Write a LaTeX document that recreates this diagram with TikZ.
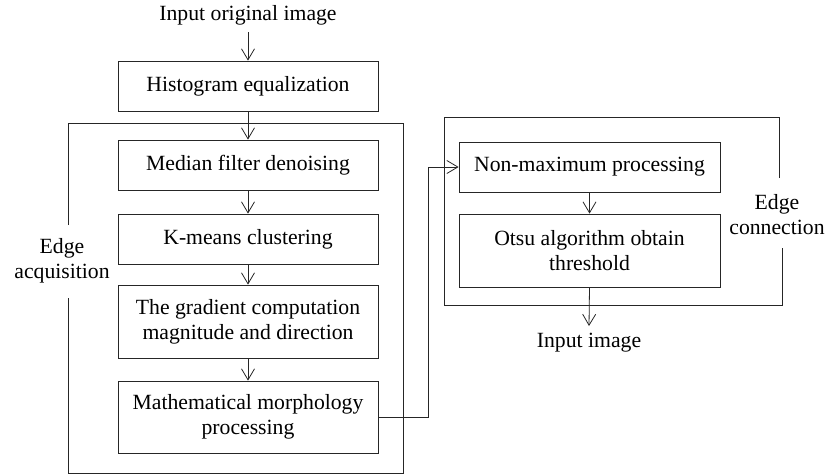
\documentclass[tikz,border=0pt]{standalone}
\usepackage{fontspec}
\setmainfont{Liberation Serif}
\usetikzlibrary{arrows.meta}
\begin{document}
\begin{tikzpicture}[x=1pt,y=-1pt,
  box/.style={draw=black!85, line width=0.8pt, minimum width=260pt, align=center, inner sep=0pt,
    font=\fontsize{21.7}{25}\selectfont},
  lbl/.style={align=center, inner sep=1pt, font=\fontsize{21.7}{25}\selectfont},
  frame/.style={draw=black!85, line width=0.8pt},
  arr/.style={draw=black!85, line width=0.8pt, -{Straight Barb[length=11pt,width=13pt,line width=0.8pt]}}]
\useasboundingbox (0,0) rectangle (829,475);

% left column
\node[lbl] (in) at (248,15) {Input original image};
\node[box, minimum height=50pt] (hist) at (248,86) {Histogram equalization};
\node[box, minimum height=50pt] (med) at (248,165) {Median filter denoising};
\node[box, minimum height=50pt] (km) at (248,239) {K-means clustering};
\node[box, minimum height=73pt] (grad) at (248,321.5) {The gradient computation\\magnitude and direction};
\node[box, minimum height=72pt] (morph) at (248,417) {Mathematical morphology\\processing};

% right column
\node[box, minimum width=261pt, minimum height=50pt] (nm) at (589.5,167) {Non-maximum processing};
\node[box, minimum width=261pt, minimum height=73pt] (otsu) at (589.5,250.5) {Otsu algorithm obtain\\threshold};
\node[lbl] (out) at (589,343) {Input image};

% frame labels
\node[lbl] (acq) at (62,261) {Edge\\acquisition};
\node[lbl] (con) at (777,215) {Edge\\connection};

% frames
\draw[frame] (68,225) -- (68,123) -- (403,123) -- (403,473) -- (68,473) -- (68,298);
\draw[frame] (779,178) -- (779,117) -- (444,117) -- (444,305) -- (782,305) -- (782,248);

% arrows
\draw[arr] (248,32) -- (hist.north);
\draw[arr] (hist.south) -- (med.north);
\draw[arr] (med.south) -- (km.north);
\draw[arr] (km.south) -- (grad.north);
\draw[arr] (grad.south) -- (morph.north);
\coordinate (c1) at (428,417);
\coordinate (c2) at (428,167);
\draw[arr] (morph.east) -- (c1) -- (c2) -- (nm.west);
\draw[arr] (nm.south) -- (otsu.north);
\draw[arr] (otsu.south) -- (589,326);
\end{tikzpicture}
\end{document}
